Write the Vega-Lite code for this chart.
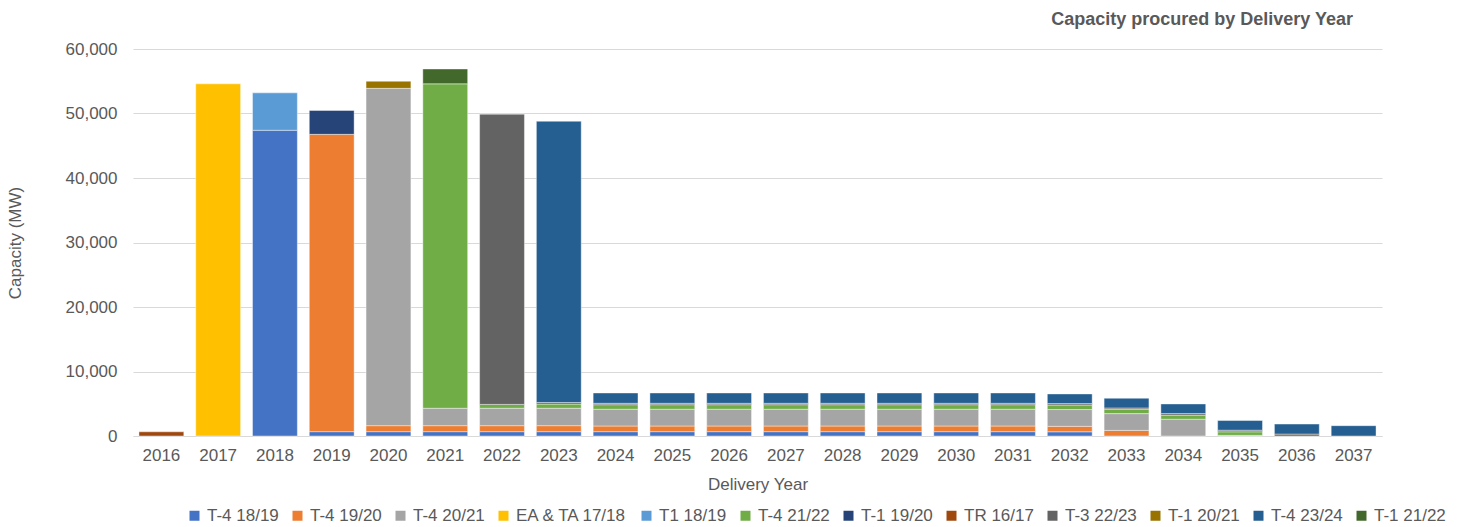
{
  "$schema": "https://vega.github.io/schema/vega-lite/v6.json",
  "autosize": {"type": "none"},
  "padding": {"left": 133, "top": 49, "right": 80, "bottom": 91},
  "width": 1249,
  "height": 387,
  "background": "#ffffff",
  "config": {
    "font": "Liberation Sans",
    "view": {"stroke": null}
  },
  "title": {
    "text": "Capacity procured by Delivery Year",
    "anchor": "end",
    "frame": "group",
    "dx": -29,
    "offset": 11,
    "fontSize": 18,
    "fontWeight": "bold",
    "color": "#595959",
    "font": "Liberation Sans"
  },
  "data": {
    "values": [
      {"year": "2016", "series": "TR 16/17", "k": 8, "value": 650},
      {"year": "2017", "series": "EA & TA 17/18", "k": 4, "value": 54600},
      {"year": "2018", "series": "T-4 18/19", "k": 1, "value": 47400},
      {"year": "2018", "series": "T1 18/19", "k": 5, "value": 5800},
      {"year": "2019", "series": "T-4 18/19", "k": 1, "value": 670},
      {"year": "2019", "series": "T-4 19/20", "k": 2, "value": 46100},
      {"year": "2019", "series": "T-1 19/20", "k": 7, "value": 3700},
      {"year": "2020", "series": "T-4 18/19", "k": 1, "value": 670},
      {"year": "2020", "series": "T-4 19/20", "k": 2, "value": 930},
      {"year": "2020", "series": "T-4 20/21", "k": 3, "value": 52300},
      {"year": "2020", "series": "T-1 20/21", "k": 10, "value": 1100},
      {"year": "2021", "series": "T-4 18/19", "k": 1, "value": 670},
      {"year": "2021", "series": "T-4 19/20", "k": 2, "value": 930},
      {"year": "2021", "series": "T-4 20/21", "k": 3, "value": 2700},
      {"year": "2021", "series": "T-4 21/22", "k": 6, "value": 50300},
      {"year": "2021", "series": "T-1 21/22", "k": 12, "value": 2300},
      {"year": "2022", "series": "T-4 18/19", "k": 1, "value": 670},
      {"year": "2022", "series": "T-4 19/20", "k": 2, "value": 930},
      {"year": "2022", "series": "T-4 20/21", "k": 3, "value": 2700},
      {"year": "2022", "series": "T-4 21/22", "k": 6, "value": 600},
      {"year": "2022", "series": "T-3 22/23", "k": 9, "value": 45000},
      {"year": "2023", "series": "T-4 18/19", "k": 1, "value": 670},
      {"year": "2023", "series": "T-4 19/20", "k": 2, "value": 930},
      {"year": "2023", "series": "T-4 20/21", "k": 3, "value": 2700},
      {"year": "2023", "series": "T-4 21/22", "k": 6, "value": 650},
      {"year": "2023", "series": "T-3 22/23", "k": 9, "value": 250},
      {"year": "2023", "series": "T-4 23/24", "k": 11, "value": 43600},
      {"year": "2024", "series": "T-4 18/19", "k": 1, "value": 670},
      {"year": "2024", "series": "T-4 19/20", "k": 2, "value": 880},
      {"year": "2024", "series": "T-4 20/21", "k": 3, "value": 2600},
      {"year": "2024", "series": "T-4 21/22", "k": 6, "value": 700},
      {"year": "2024", "series": "T-3 22/23", "k": 9, "value": 220},
      {"year": "2024", "series": "T-4 23/24", "k": 11, "value": 1600},
      {"year": "2025", "series": "T-4 18/19", "k": 1, "value": 670},
      {"year": "2025", "series": "T-4 19/20", "k": 2, "value": 880},
      {"year": "2025", "series": "T-4 20/21", "k": 3, "value": 2600},
      {"year": "2025", "series": "T-4 21/22", "k": 6, "value": 700},
      {"year": "2025", "series": "T-3 22/23", "k": 9, "value": 220},
      {"year": "2025", "series": "T-4 23/24", "k": 11, "value": 1600},
      {"year": "2026", "series": "T-4 18/19", "k": 1, "value": 670},
      {"year": "2026", "series": "T-4 19/20", "k": 2, "value": 880},
      {"year": "2026", "series": "T-4 20/21", "k": 3, "value": 2600},
      {"year": "2026", "series": "T-4 21/22", "k": 6, "value": 700},
      {"year": "2026", "series": "T-3 22/23", "k": 9, "value": 220},
      {"year": "2026", "series": "T-4 23/24", "k": 11, "value": 1600},
      {"year": "2027", "series": "T-4 18/19", "k": 1, "value": 670},
      {"year": "2027", "series": "T-4 19/20", "k": 2, "value": 880},
      {"year": "2027", "series": "T-4 20/21", "k": 3, "value": 2600},
      {"year": "2027", "series": "T-4 21/22", "k": 6, "value": 700},
      {"year": "2027", "series": "T-3 22/23", "k": 9, "value": 220},
      {"year": "2027", "series": "T-4 23/24", "k": 11, "value": 1600},
      {"year": "2028", "series": "T-4 18/19", "k": 1, "value": 670},
      {"year": "2028", "series": "T-4 19/20", "k": 2, "value": 880},
      {"year": "2028", "series": "T-4 20/21", "k": 3, "value": 2600},
      {"year": "2028", "series": "T-4 21/22", "k": 6, "value": 700},
      {"year": "2028", "series": "T-3 22/23", "k": 9, "value": 220},
      {"year": "2028", "series": "T-4 23/24", "k": 11, "value": 1600},
      {"year": "2029", "series": "T-4 18/19", "k": 1, "value": 670},
      {"year": "2029", "series": "T-4 19/20", "k": 2, "value": 880},
      {"year": "2029", "series": "T-4 20/21", "k": 3, "value": 2600},
      {"year": "2029", "series": "T-4 21/22", "k": 6, "value": 700},
      {"year": "2029", "series": "T-3 22/23", "k": 9, "value": 220},
      {"year": "2029", "series": "T-4 23/24", "k": 11, "value": 1600},
      {"year": "2030", "series": "T-4 18/19", "k": 1, "value": 670},
      {"year": "2030", "series": "T-4 19/20", "k": 2, "value": 880},
      {"year": "2030", "series": "T-4 20/21", "k": 3, "value": 2600},
      {"year": "2030", "series": "T-4 21/22", "k": 6, "value": 700},
      {"year": "2030", "series": "T-3 22/23", "k": 9, "value": 220},
      {"year": "2030", "series": "T-4 23/24", "k": 11, "value": 1600},
      {"year": "2031", "series": "T-4 18/19", "k": 1, "value": 670},
      {"year": "2031", "series": "T-4 19/20", "k": 2, "value": 880},
      {"year": "2031", "series": "T-4 20/21", "k": 3, "value": 2600},
      {"year": "2031", "series": "T-4 21/22", "k": 6, "value": 700},
      {"year": "2031", "series": "T-3 22/23", "k": 9, "value": 220},
      {"year": "2031", "series": "T-4 23/24", "k": 11, "value": 1600},
      {"year": "2032", "series": "T-4 18/19", "k": 1, "value": 650},
      {"year": "2032", "series": "T-4 19/20", "k": 2, "value": 850},
      {"year": "2032", "series": "T-4 20/21", "k": 3, "value": 2600},
      {"year": "2032", "series": "T-4 21/22", "k": 6, "value": 700},
      {"year": "2032", "series": "T-3 22/23", "k": 9, "value": 220},
      {"year": "2032", "series": "T-4 23/24", "k": 11, "value": 1500},
      {"year": "2033", "series": "T-4 19/20", "k": 2, "value": 870},
      {"year": "2033", "series": "T-4 20/21", "k": 3, "value": 2600},
      {"year": "2033", "series": "T-4 21/22", "k": 6, "value": 680},
      {"year": "2033", "series": "T-3 22/23", "k": 9, "value": 200},
      {"year": "2033", "series": "T-4 23/24", "k": 11, "value": 1500},
      {"year": "2034", "series": "T-4 20/21", "k": 3, "value": 2600},
      {"year": "2034", "series": "T-4 21/22", "k": 6, "value": 620},
      {"year": "2034", "series": "T-3 22/23", "k": 9, "value": 250},
      {"year": "2034", "series": "T-4 23/24", "k": 11, "value": 1500},
      {"year": "2035", "series": "T-4 20/21", "k": 3, "value": 100},
      {"year": "2035", "series": "T-4 21/22", "k": 6, "value": 550},
      {"year": "2035", "series": "T-3 22/23", "k": 9, "value": 250},
      {"year": "2035", "series": "T-4 23/24", "k": 11, "value": 1500},
      {"year": "2036", "series": "T-3 22/23", "k": 9, "value": 300},
      {"year": "2036", "series": "T-4 23/24", "k": 11, "value": 1550},
      {"year": "2037", "series": "T-4 23/24", "k": 11, "value": 1600}
    ]
  },
  "mark": {"type": "bar", "stroke": "#ffffff", "strokeWidth": 0.7, "strokeOpacity": 0.6},
  "encoding": {
    "x": {
      "field": "year",
      "type": "ordinal",
      "scale": {"paddingInner": 0.21, "paddingOuter": 0.105},
      "axis": {
        "title": "Delivery Year",
        "labelAngle": 0,
        "labelFontSize": 17,
        "labelColor": "#595959",
        "labelPadding": 11,
        "ticks": false,
        "domain": true,
        "domainColor": "#D9D9D9",
        "domainWidth": 1,
        "titleFontSize": 17,
        "titleFontWeight": "normal",
        "titleColor": "#595959",
        "titlePadding": 13
      }
    },
    "y": {
      "field": "value",
      "type": "quantitative",
      "aggregate": "sum",
      "stack": "zero",
      "scale": {"domain": [0, 60000], "nice": false},
      "axis": {
        "title": "Capacity (MW)",
        "values": [0, 10000, 20000, 30000, 40000, 50000, 60000],
        "format": ",d",
        "labelFontSize": 17,
        "labelColor": "#595959",
        "labelPadding": 16,
        "ticks": false,
        "domain": false,
        "grid": true,
        "gridColor": "#D9D9D9",
        "gridWidth": 1,
        "titleFontSize": 17,
        "titleFontWeight": "normal",
        "titleColor": "#595959",
        "titleX": -113,
        "titleBaseline": "alphabetic"
      }
    },
    "color": {
      "field": "series",
      "type": "nominal",
      "scale": {
        "domain": ["T-4 18/19", "T-4 19/20", "T-4 20/21", "EA & TA 17/18", "T1 18/19", "T-4 21/22", "T-1 19/20", "TR 16/17", "T-3 22/23", "T-1 20/21", "T-4 23/24", "T-1 21/22"],
        "range": ["#4472C4", "#ED7D31", "#A5A5A5", "#FFC000", "#5B9BD5", "#70AD47", "#264478", "#9E480E", "#636363", "#997300", "#255E91", "#43682B"]
      },
      "legend": {
        "title": null,
        "orient": "none",
        "direction": "horizontal",
        "columns": 12,
        "legendX": 53,
        "legendY": 458,
        "symbolType": "square",
        "symbolSize": 100,
        "symbolStrokeWidth": 0,
        "labelFontSize": 17,
        "labelColor": "#595959",
        "labelOffset": 4,
        "columnPadding": 10
      }
    },
    "order": {"field": "k", "type": "quantitative", "aggregate": "min"}
  }
}
